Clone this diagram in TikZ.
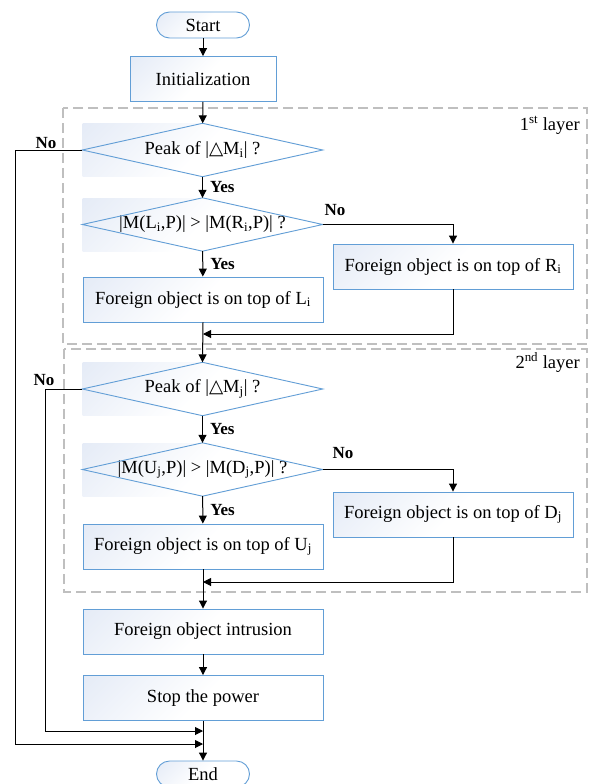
\documentclass[tikz,border=0pt]{standalone}
\usepackage{fontspec}
\setmainfont{Liberation Serif}
\newfontfamily\symf{DejaVu Sans}
\usetikzlibrary{arrows.meta}
\definecolor{bord}{RGB}{98,158,214}
\definecolor{shd}{RGB}{218,227,243}
\definecolor{dgray}{RGB}{191,191,191}
\pgfdeclareverticalshading{softshade}{100bp}{color(0bp)=(white); color(50bp)=(white); color(100bp)=(shd)}
\tikzset{
  shadefill/.style={shading=softshade, shading angle=45},
  pbox/.style={shadefill, draw=bord, line width=0.9pt, minimum width=240pt, minimum height=45pt, inner sep=0pt},
  term/.style={shadefill, draw=bord, line width=0.9pt, rounded corners=13pt, minimum width=93pt, minimum height=26pt, inner sep=0pt},
  dbg/.style={shadefill, minimum width=240pt, minimum height=53pt, inner sep=0pt},
  dline/.style={draw=bord, line width=0.9pt},
  conn/.style={draw=black, line width=1pt},
  arr/.style={conn, -{Triangle[length=8pt,width=8pt]}},
  lbl/.style={font=\fontsize{17pt}{19pt}\selectfont\bfseries, inner sep=0pt},
  layerbox/.style={draw=dgray, line width=1.6pt, dash pattern=on 10pt off 5pt},
}
\begin{document}
\begin{tikzpicture}[x=1pt,y=-1pt,font=\fontsize{18.5pt}{20pt}\selectfont]
\useasboundingbox (0,0) rectangle (590,784);
% layer boxes
\draw[layerbox] (63,108) rectangle (587,344);
\draw[layerbox] (64,349) rectangle (587,592);
\node[anchor=base east, inner sep=0pt] (l1) at (580,130) {1\textsuperscript{st} layer};
\node[anchor=base east, inner sep=0pt] (l2) at (580,368) {2\textsuperscript{nd} layer};
% nodes
\node[term] (start) at (203,25) {Start};
\node[pbox, minimum width=146pt] (init) at (203,79) {Initialization};
\node[dbg] (d1) at (202.5,150) {Peak of |{\symf △}M\textsubscript{i}| ?};
\draw[dline] (d1.north) -- (d1.east) -- (d1.south) -- (d1.west) -- cycle;
\node[dbg] (d2) at (202.5,224.5) {|M(L\textsubscript{i},P)| > |M(R\textsubscript{i},P)| ?};
\draw[dline] (d2.north) -- (d2.east) -- (d2.south) -- (d2.west) -- cycle;
\node[pbox] (bL) at (203,299.5) {Foreign object is on top of L\textsubscript{i}};
\node[pbox] (bR) at (453,266.5) {Foreign object is on top of R\textsubscript{i}};
\node[dbg] (d3) at (202.5,389) {Peak of |{\symf △}M\textsubscript{j}| ?};
\draw[dline] (d3.north) -- (d3.east) -- (d3.south) -- (d3.west) -- cycle;
\node[dbg] (d4) at (202.5,469.5) {|M(U\textsubscript{j},P)| > |M(D\textsubscript{j},P)| ?};
\draw[dline] (d4.north) -- (d4.east) -- (d4.south) -- (d4.west) -- cycle;
\node[pbox] (bU) at (203,546.5) {Foreign object is on top of U\textsubscript{j}};
\node[pbox] (bD) at (453,514.5) {Foreign object is on top of D\textsubscript{j}};
\node[pbox] (foi) at (203,631.5) {Foreign object intrusion};
\node[pbox] (stop) at (203,698) {Stop the power};
\node[term] (end) at (203,774) {End};
% coordinates
\coordinate (j1) at (203,334);
\coordinate (j2) at (203,582);
\coordinate (n1) at (15,150);
\coordinate (n3) at (45,389);
\coordinate (e1) at (203,744);
\coordinate (e3) at (203,731);
% connectors
\draw[arr] (start) -- (init);
\draw[arr] (init) -- (d1);
\draw[arr] (d1) -- node[lbl, anchor=west, xshift=7pt]{Yes} (d2);
\draw[arr] (d2) -- node[lbl, anchor=west, xshift=7pt]{Yes} (bL);
\draw[arr] (d2.east) -| (bR.north);
\node[lbl] (no2) at (335,210) {No};
\draw[arr] (bR.south) |- (j1);
\draw[arr] (bL.south) -- (d3.north);
\draw[arr] (d3) -- node[lbl, anchor=west, xshift=7pt]{Yes} (d4);
\draw[arr] (d4) -- node[lbl, anchor=west, xshift=7pt]{Yes} (bU);
\draw[arr] (d4.east) -| (bD.north);
\node[lbl] (no4) at (343,453) {No};
\draw[arr] (bD.south) |- (j2);
\draw[arr] (bU.south) -- (foi.north);
\draw[arr] (foi) -- (stop);
\draw[arr] (stop.south) -- (end.north);
\draw[arr] (d1.west) -- (n1) |- (e1);
\node[lbl] (no1) at (46,143) {No};
\draw[arr] (d3.west) -- (n3) |- (e3);
\node[lbl] (no3) at (44,380) {No};
\end{tikzpicture}
\end{document}
